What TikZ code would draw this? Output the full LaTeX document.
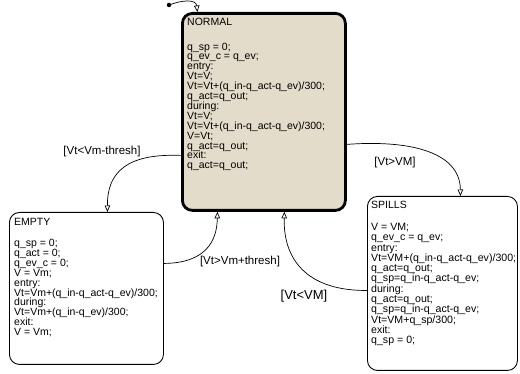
\documentclass[tikz,border=0pt]{standalone}
\usepackage{fontspec}
\setmainfont{Liberation Sans}
\usetikzlibrary{arrows.meta,calc}
\definecolor{stbeige}{RGB}{228,220,202}
\newcommand\mytightlines{\lineskiplimit -100pt\relax\lineskip 0pt\relax}
\begin{document}
\begin{tikzpicture}[x=1pt,y=-1pt,
  statebox/.style={draw=black, rounded corners=10pt, inner sep=0pt, anchor=north west},
  sttext/.style={anchor=north west, inner sep=0pt, align=left, font=\fontsize{10.5}{9.9}\selectfont},
  sttextb/.style={anchor=north west, inner sep=0pt, align=left, font={\fontsize{10.6}{10.3}\selectfont\mytightlines}},
  trans/.style={draw=black, line width=0.7pt, -{Triangle[open,length=6.5pt,width=5.5pt]}},
  tlabel/.style={font=\fontsize{11.5}{12}\selectfont, inner sep=0pt}
]
\useasboundingbox (0,0) rectangle (520,374);
\fill[white] (0,0) rectangle (520,374);

% states
\node[statebox, line width=2.8pt, fill=stbeige, minimum width=163pt, minimum height=197pt] (normal) at (181,12) {};
\node[statebox, line width=0.9pt, fill=white, minimum width=154pt, minimum height=152pt] (empty) at (9,212) {};
\node[statebox, line width=0.9pt, fill=white, minimum width=150pt, minimum height=174pt] (spills) at (367,196) {};

% texts
\node[sttext] (normaltitle) at (187,18) {NORMAL};
\node[sttext] (normaltext) at (187,42.5) {q\_sp = 0;\\
q\_ev\_c = q\_ev;\\
entry:\\
Vt=V;\\
Vt=Vt+(q\_in-q\_act-q\_ev)/300;\\
q\_act=q\_out;\\
during:\\
Vt=V;\\
Vt=Vt+(q\_in-q\_act-q\_ev)/300;\\
V=Vt;\\
q\_act=q\_out;\\
exit:\\
q\_act=q\_out;};

\node[sttext] (emptytitle) at (14,218) {EMPTY};
\node[sttext] (emptytext) at (14,239) {q\_sp = 0;\\
q\_act = 0;\\
q\_ev\_c = 0;\\
V = Vm;\\
entry:\\
Vt=Vm+(q\_in-q\_act-q\_ev)/300;\\
during:\\
Vt=Vm+(q\_in-q\_ev)/300;\\
exit:\\
V = Vm;};

\node[sttext] (spillstitle) at (371,200.5) {SPILLS};
\node[sttextb] (spillstext) at (371,223) {V = VM;\\
q\_ev\_c = q\_ev;\\
entry:\\
Vt=VM+(q\_in-q\_act-q\_ev)/300;\\
q\_act=q\_out;\\
q\_sp=q\_in-q\_act-q\_ev;\\
during:\\
q\_act=q\_out;\\
q\_sp=q\_in-q\_act-q\_ev;\\
Vt=VM+q\_sp/300;\\
exit:\\
q\_sp = 0;};

% default transition
\node[circle, fill=black, inner sep=0pt, minimum size=4.5pt] (init) at (169,5) {};
\draw[trans] (init.center) .. controls (182,0) and (196,-1) .. ($(normal.north)+(-66.5,0)$);

% transitions
\coordinate (nleft) at ($(normal.west)+(0,43.5)$);
\coordinate (nright) at ($(normal.east)+(0,32.5)$);
\coordinate (nbotl) at ($(normal.south)+(-46.5,0)$);
\coordinate (nbotr) at ($(normal.south)+(20.5,0)$);
\coordinate (etop) at ($(empty.north)+(21,0)$);
\coordinate (eright) at ($(empty.east)+(0,-25)$);
\coordinate (stop) at ($(spills.north)+(18,0)$);
\coordinate (sleft) at ($(spills.west)+(0,7)$);

\draw[trans] (nleft) .. controls (140,154) and (107,163) .. (etop);
\draw[trans] (nright) .. controls (405,140) and (460,150) .. (stop);
\draw[trans] (eright) .. controls (205,263) and (217,242) .. (nbotl);
\draw[trans] (sleft) .. controls (312,291) and (283,264) .. (nbotr);

% labels
\node[tlabel] (l1) at (102,152) {[Vt<Vm-thresh]};
\node[tlabel] (l2) at (395,163) {[Vt>VM]};
\node[tlabel] (l3) at (240,262) {[Vt>Vm+thresh]};
\node[tlabel, font=\fontsize{13}{14}\selectfont] (l4) at (304,296) {[Vt<VM]};
\end{tikzpicture}
\end{document}
